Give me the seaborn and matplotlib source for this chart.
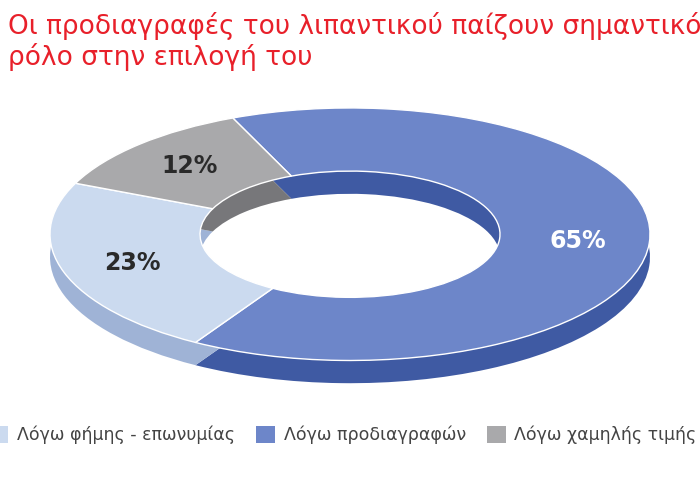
import matplotlib
matplotlib.use("Agg")
import matplotlib.pyplot as plt
import seaborn as sns
from matplotlib.patches import Patch

sns.set_style("white")
plt.rcParams['font.family'] = ['Liberation Sans Narrow', 'DejaVu Sans']

title = "Οι προδιαγραφές του λιπαντικού παίζουν σημαντικό\nρόλο στην επιλογή του"
labels = ["Λόγω προδιαγραφών", "Λόγω φήμης - επωνυμίας", "Λόγω χαμηλής τιμής"]
values = [65, 23, 12]
colors = ["#6d86c9", "#cbdaef", "#a9a9ab"]
side_colors = ["#3f5aa3", "#9fb3d6", "#77777a"]
legend_order = [1, 0, 2]

fig = plt.figure(figsize=(7, 4.84), dpi=100)
fig.text(0.012, 0.975, title, color="#e8202a", fontsize=19, va="top", linespacing=1.15)

ax = fig.add_axes([0.05, 0.19, 0.9, 0.6])
# thickness (side of the 3D ring)
ax.pie(values, colors=side_colors, startangle=113, counterclock=False,
       radius=1.0, center=(0, -0.18), wedgeprops=dict(width=0.5, edgecolor="none"))
wedges, _, autotexts = ax.pie(values, colors=colors, startangle=113, counterclock=False,
                              radius=1.0, autopct="%d%%", pctdistance=0.76,
                              wedgeprops=dict(width=0.5, edgecolor="white", linewidth=1))
text_colors = ["white", "#2a2a2a", "#2a2a2a"]
for t, c in zip(autotexts, text_colors):
    t.set_color(c)
    t.set_fontsize(17)
    t.set_fontweight("bold")
ax.set_aspect("auto")
ax.set_xlim(-1.05, 1.05)
ax.set_ylim(-1.25, 1.05)
ax.axis("off")

handles = [Patch(facecolor=colors[i], edgecolor="none") for i in legend_order]
fig.legend(handles, [labels[i] for i in legend_order], loc="lower center",
           bbox_to_anchor=(0.49, 0.05), ncol=3, frameon=False, fontsize=12.5,
           handlelength=1.1, handleheight=1.1, columnspacing=1.2, handletextpad=0.5,
           labelcolor="#444444")

fig.savefig("out.png", dpi=100)
